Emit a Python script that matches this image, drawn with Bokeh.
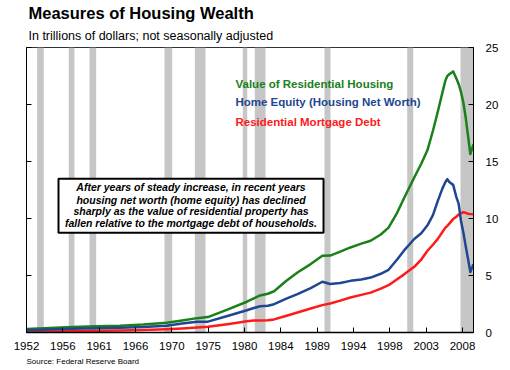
from bokeh.plotting import figure
from bokeh.models import Range1d, LinearAxis, FixedTicker, Label, BoxAnnotation, Title
from bokeh.embed import file_html
from bokeh.resources import INLINE

# ---------------- data ----------------
years = [1952.0, 1955.0, 1958.0, 1961.0, 1964.0, 1967.0, 1970.0, 1972.0, 1973.9, 1975.3,
         1977.8, 1980.3, 1981.2, 1982.0, 1983.0, 1983.8, 1985.3, 1986.8, 1988.5, 1990.0,
         1991.0, 1992.3, 1993.6, 1995.0, 1996.2, 1997.5, 1998.5, 1999.6, 2000.5, 2001.8,
         2002.7, 2003.5, 2004.2, 2004.8, 2005.4, 2005.8, 2006.05, 2006.3, 2006.8, 2007.2,
         2007.5, 2007.8, 2008.1, 2008.4, 2008.7, 2009.0, 2009.4]

housing_value = [0.3, 0.4, 0.48, 0.55, 0.6, 0.7, 0.85, 1.05, 1.26, 1.35,
                 2.0, 2.7, 3.0, 3.25, 3.4, 3.62, 4.5, 5.26, 6.0, 6.73,
                 6.75, 7.1, 7.46, 7.8, 8.05, 8.6, 9.2, 10.5, 11.8, 13.6,
                 14.8, 16.0, 17.7, 19.3, 21.0, 22.1, 22.5, 22.65, 22.9, 22.3,
                 21.8, 21.1, 20.2, 18.9, 17.3, 15.65, 16.5]

home_equity = [0.2, 0.27, 0.33, 0.38, 0.42, 0.48, 0.6, 0.78, 0.95, 0.95,
               1.45, 1.95, 2.15, 2.3, 2.35, 2.48, 2.95, 3.37, 3.9, 4.45,
               4.25, 4.35, 4.53, 4.65, 4.82, 5.15, 5.5, 6.4, 7.2, 8.2,
               8.7, 9.4, 10.3, 11.5, 12.6, 13.2, 13.45, 13.2, 12.95, 11.9,
               11.3, 9.8, 8.8, 7.6, 6.5, 5.3, 6.0]

mortgage_debt = [0.05, 0.09, 0.12, 0.15, 0.18, 0.22, 0.28, 0.35, 0.44, 0.5,
                 0.73, 0.98, 1.05, 1.05, 1.07, 1.15, 1.45, 1.75, 2.1, 2.4,
                 2.55, 2.8, 3.07, 3.3, 3.5, 3.85, 4.15, 4.68, 5.1, 5.76,
                 6.4, 7.17, 7.7, 8.19, 8.8, 9.2, 9.36, 9.55, 9.95, 10.15,
                 10.35, 10.45, 10.55, 10.5, 10.42, 10.4, 10.38]

recession_start = [1953.37, 1957.43, 1960.09, 1969.72, 1973.62, 1979.78, 1981.32, 1990.27, 2000.9, 2007.74]
recession_end = [1954.22, 1958.16, 1960.95, 1970.71, 1974.99, 1980.35, 1982.7, 1991.04, 2001.67, 2009.5]

x_ticks = [1952 + k * 14 / 3 for k in range(13)]
x_tick_labels = ["1952", "1956", "1961", "1966", "1970", "1975", "1980",
                 "1984", "1989", "1994", "1998", "2003", "2008"]
y_ticks = [0, 5, 10, 15, 20, 25]

series_names = ["Value of Residential Housing", "Home Equity (Housing Net Worth)",
                "Residential  Mortgage Debt"]

note_lines = ["After years of steady increase, in recent years",
              "housing net worth (home equity) has declined",
              "sharply as the value of residential property has",
              "fallen relative to the mortgage debt of households."]

title_text = "Measures of Housing Wealth"
subtitle_text = "In trillions of dollars; not seasonally adjusted"
source_text = "Source: Federal Reserve Board"

# ---------------- styling ----------------
FONT = "Liberation Sans"
GREEN = "#1a801a"
BLUE = "#1f4690"
RED = "#ff1a1a"
BAR = "#c6c6c6"

p = figure(width=510, height=370, output_backend="svg", toolbar_location=None,
           x_range=Range1d(1952, 2009.41), y_range=Range1d(0, 25),
           min_border_left=26, min_border_right=37, min_border_top=47, min_border_bottom=38,
           y_axis_location="right")
p.background_fill_color = "white"
p.border_fill_color = "white"
p.outline_line_color = "#333333"
p.outline_line_width = 1
p.xgrid.visible = False
p.ygrid.visible = False

# recession bars
p.quad(left=recession_start, right=recession_end, bottom=0, top=25,
       fill_color=BAR, line_color=None)

# lines
p.line(years, housing_value, line_color=GREEN, line_width=2.5, line_join="round")
p.line(years, mortgage_debt, line_color=RED, line_width=2.5, line_join="round")
p.line(years, home_equity, line_color=BLUE, line_width=2.5, line_join="round")

# x axis
xa = p.xaxis[0]
xa.ticker = FixedTicker(ticks=x_ticks)
xa.major_label_overrides = {t: l for t, l in zip(x_ticks, x_tick_labels)}
xa.major_tick_in = 5
xa.major_tick_out = 0
xa.minor_tick_line_color = None
xa.axis_line_color = "black"
xa.axis_line_width = 1.5
xa.major_tick_line_color = "black"
xa.major_label_text_font = FONT
xa.major_label_text_font_size = "11.5px"
xa.major_label_text_color = "black"
xa.major_label_standoff = 9

# right y axis
ya = p.yaxis[0]
ya.ticker = FixedTicker(ticks=y_ticks)
ya.major_tick_in = 5
ya.major_tick_out = 0
ya.minor_tick_line_color = None
ya.axis_line_color = "black"
ya.major_tick_line_color = "black"
ya.major_label_text_font = FONT
ya.major_label_text_font_size = "11.5px"
ya.major_label_text_color = "black"
ya.major_label_standoff = 12

# left y axis (ticks only)
la = LinearAxis(ticker=FixedTicker(ticks=y_ticks),
                major_label_overrides={t: "" for t in y_ticks},
                major_tick_in=5, major_tick_out=0, minor_tick_line_color=None,
                axis_line_color="black", major_tick_line_color="black",
                major_label_standoff=0)
p.add_layout(la, "left")

# legend texts
legend_colors = [GREEN, BLUE, RED]
legend_y = [21.84, 20.18, 18.48]
for name, c, yy in zip(series_names, legend_colors, legend_y):
    p.add_layout(Label(x=1978.84, y=yy, text=name, text_color=c, text_font=FONT,
                       text_font_size="11.5px", text_font_style="bold",
                       text_baseline="middle", text_align="left"))

# annotation box
p.add_layout(BoxAnnotation(left=1956.11, right=1990.15, bottom=8.75, top=13.48,
                           fill_color="white", fill_alpha=1.0,
                           line_color="black", line_width=2, line_alpha=1.0))
note_y = [12.76, 11.66, 10.63, 9.61]
for line, yy in zip(note_lines, note_y):
    p.add_layout(Label(x=1973.13, y=yy, text=line, text_color="black", text_font=FONT,
                       text_font_size="10.5px", text_font_style="bold italic",
                       text_baseline="middle", text_align="center"))

# title, subtitle (above; first added is nearest the frame), source (below)
p.add_layout(Title(text=subtitle_text, align="left", offset=2, standoff=10,
                   text_font=FONT, text_font_size="12.5px", text_font_style="normal",
                   text_color="black"), "above")
p.add_layout(Title(text=title_text, align="left", offset=2, standoff=0,
                   text_font=FONT, text_font_size="16.5px", text_font_style="bold",
                   text_color="black"), "above")
p.add_layout(Title(text=source_text, align="left", offset=0, standoff=5,
                   text_font=FONT, text_font_size="8px", text_font_style="normal",
                   text_color="black"), "below")

open("out.html", "w").write(file_html(p, INLINE))
